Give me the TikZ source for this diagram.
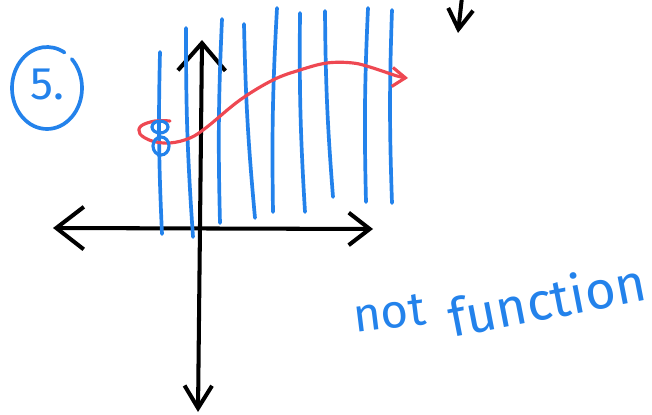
\documentclass[tikz,border=0pt]{standalone}
\usepackage{fontspec}
\setmainfont{Fira Sans}
\usepackage{xcolor}
\usetikzlibrary{arrows.meta,calc}
\definecolor{sketchblue}{RGB}{35,130,235}
\definecolor{sketchred}{RGB}{238,72,82}
\tikzset{
  axisline/.style={draw=black, line width=2.3pt, line cap=round, line join=round},
  blueline/.style={draw=sketchblue, line width=2.1pt, line cap=round},
  redline/.style={draw=sketchred, line width=1.8pt, line cap=round, line join=round},
  bluetext/.style={text=sketchblue, inner sep=0pt},
}
\begin{document}
\begin{tikzpicture}[x=0.02cm, y=-0.02cm]
  \useasboundingbox (0,0) rectangle (652,415);
  % axes
  \coordinate (xl) at (53,228);
  \coordinate (xr) at (373,229);
  \coordinate (yt) at (202,40);
  \coordinate (yb) at (198,412);
  \coordinate (ds) at (462,-3);
  \coordinate (de) at (458,33);
  \draw[axisline, {Straight Barb[length=5.5mm,width=8.5mm]}-{Straight Barb[length=4.2mm,width=6.5mm]}] (xl) -- (xr);
  \draw[axisline, {Straight Barb[length=5.5mm,width=9.5mm]}-{Straight Barb[length=4.5mm,width=5.5mm]}] (yt) -- (yb);
  \draw[axisline, -{Straight Barb[length=4mm,width=5mm]}] (ds) -- (de);
  % vertical lines
  \foreach \xa/\ya/\xb/\yb in {160/52/162/234, 186/28/193/237, 222/19/220/223,
      244/24/255/218, 277/8/273/212, 300/13/305/212, 325/11/333/197,
      368/8/366/202, 392/10/392/203}
    \draw[blueline] (\xa,\ya) to[bend right=2] (\xb,\yb);
  % red path
  \draw[redline, -{Straight Barb[length=2.6mm,width=3.8mm]}] plot[smooth, tension=0.6] coordinates {
      (170,121) (155,121) (141,126) (140,134) (152,141) (170,143) (190,138)
      (207,127) (240,100) (273,80) (300,70) (327,63) (353,63) (373,68)
      (397,76) (408,78)};
  % loops on the first line
  \coordinate (lu) at (160,127);
  \coordinate (ll) at (161,146);
  \draw[blueline, line width=1.8pt] (lu) ellipse [x radius=8, y radius=6];
  \draw[blueline, line width=1.8pt] (ll) ellipse [x radius=8, y radius=9];
  % circled number
  \coordinate (c5) at (47,88);
  \draw[blueline] ($(c5)+(-45:35 and 41)$) arc[start angle=-45, end angle=300, x radius=35, y radius=41];
  \node (n5) [bluetext, anchor=base west, font=\fontsize{26}{26}\selectfont] at (30,100) {5.};
  % labels
  \node (nnot) [bluetext, anchor=base west, rotate=7, font=\fontsize{27}{27}\selectfont] at (355,333) {not};
  \node (nfun) [bluetext, anchor=base west, rotate=11, font=\fontsize{30}{30}\selectfont] at (452,338) {function};
\end{tikzpicture}
\end{document}
